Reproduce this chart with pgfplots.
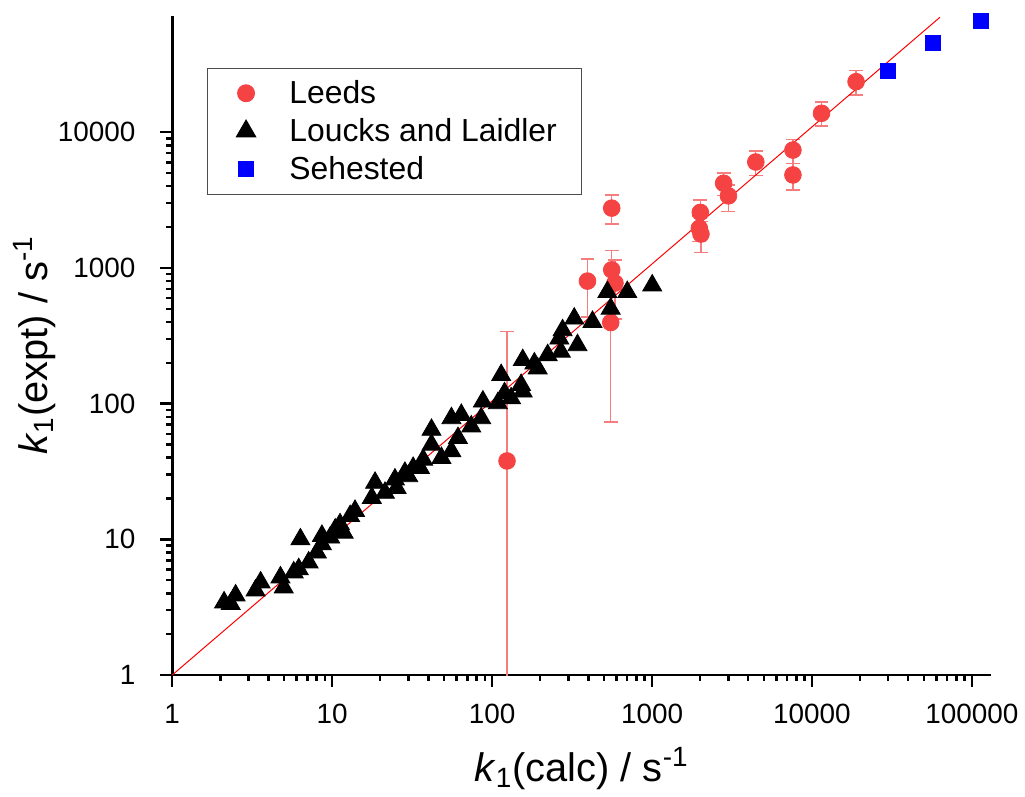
\documentclass[border=0pt]{standalone}
\usepackage{pgfplots}
\pgfplotsset{compat=1.18}
\usepackage{pgfplotstable}
\usepackage{fontspec}
\setmainfont{Liberation Sans}

\definecolor{leedsred}{RGB}{245,66,66}
\definecolor{barred}{RGB}{245,125,125}

% Leeds: x, y, upper and lower error
\pgfplotstableread{
x      y      ep    em
124    37.8   302   37.7
395    800    367   364
560    2760   696   653
560    968    374   268
587    773    374   353
552    396    323   323
2005   2567   608   500
1977   1960   450   400
2024   1778   422   472
2804   4210   800   800
3006   3398   700   786
4456   6036   1244  1216
7607   7390   1470  1490
7607   4845   1055  1085
11480  13800  2940  2710
18880  23590  4790  4740
}\leeds

% Loucks and Laidler
\pgfplotstableread{
x      y
2.11   3.43
2.32   3.34
2.49   3.86
3.32   4.20
3.57   4.81
4.75   5.24
4.98   4.42
6.33   10.0
5.75   5.70
6.18   6.03
7.13   6.75
8.03   7.99
8.63   10.6
8.63   9.19
9.73   10.3
10.45  11.8
11.2   12.9
11.8   11.2
12.96  14.85
13.9   16.2
18.55  26.1
17.7   20.2
21.4   22.0
24.7   27.6
25.3   23.9
28.5   30.9
29.9   29.2
32.1   33.6
35.4   33.6
37.1   38.6
41.8   49.8
41.8   64.1
55.7   78.1
61.2   55.8
55.7   44.5
48.2   39.8
64.2   82.6
74.1   67.9
85.5   78.1
87.6   103.6
108.7  100.7
114    162.4
119.6  119.2
131.5  109.5
151.8  137.2
155.5  209.3
155.5  122.7
183.9  197.9
192.8  181.8
222.6  227.7
269.3  241.1
276    347.3
263.3  301.8
342.1  269.6
326.4  423.2
424.4  400.3
526    664.4
551.4  501.2
700.6  664.4
1003   742.9
}\loucks

% Sehested
\pgfplotstableread{
x       y
29850   28400
57150   45800
114300  66400
}\sehested

\begin{document}
\begin{tikzpicture}
\begin{axis}[
  scale only axis,
  width=411pt, height=331pt,
  xmode=log, ymode=log,
  xmin=1, xmax=131000,
  ymin=1, ymax=72000,
  axis x line*=bottom, axis y line*=left,
  axis line style={line width=1.4pt, black},
  tick align=outside,
  major tick length=6pt, minor tick length=3pt,
  tick style={line width=1.2pt, black},
  xtick={1,10,100,1000,10000,100000},
  xticklabels={1,10,100,1000,10000,100000},
  ytick={1,10,100,1000,10000},
  yticklabels={1,10,100,1000,10000},
  tick label style={font=\fontsize{14}{16}\selectfont},
  xticklabel style={yshift=-5pt},
  yticklabel style={xshift=-9pt},
  xlabel={\textit{k}\textsubscript{1}(calc) / s\textsuperscript{-1}},
  ylabel={\textit{k}\textsubscript{1}(expt) / s\textsuperscript{-1}},
  label style={font=\fontsize{20}{24}\selectfont},
  xlabel style={at={(axis description cs:0.5,-0.142)}, anchor=center},
  ylabel style={at={(axis description cs:-0.168,0.5)}, anchor=center},
  legend style={at={(rel axis cs:0.0426,0.9215)}, anchor=north west,
    draw=black!70, line width=0.6pt, font=\fontsize{16}{19}\selectfont,
    inner xsep=14.5pt, inner ysep=4pt, row sep=2pt, column sep=15pt},
  legend cell align=left,
]
\addplot[only marks, mark=*, mark size=4.2pt,
  mark options={fill=leedsred, draw=leedsred},
  error bars/.cd, y dir=both, y explicit,
  error bar style={barred, line width=0.7pt},
  error mark options={barred, line width=0.7pt, mark size=3.5pt, rotate=90}]
  table[x=x, y=y, y error plus=ep, y error minus=em] {\leeds};
\addlegendentry{\makebox[130pt][l]{Leeds}}
\addplot[only marks, mark=triangle*, mark size=5.5pt,
  mark options={fill=black, draw=black}]
  table[x=x, y=y] {\loucks};
\addlegendentry{\makebox[130pt][l]{Loucks and Laidler}}
\addplot[only marks, mark=square*, mark size=3.8pt,
  mark options={fill=blue, draw=blue}]
  table[x=x, y=y] {\sehested};
\addlegendentry{\makebox[130pt][l]{Sehested}}
\addplot[red, line width=0.5pt, forget plot] coordinates {(1,1) (63200,70400)};
\coordinate (SW) at (rel axis cs:0,0);
\coordinate (NE) at (rel axis cs:1,1);
\end{axis}
\path ([shift={(-86.5pt,-56.5pt)}]SW) rectangle ([shift={(15pt,8pt)}]NE);
\end{tikzpicture}
\end{document}
